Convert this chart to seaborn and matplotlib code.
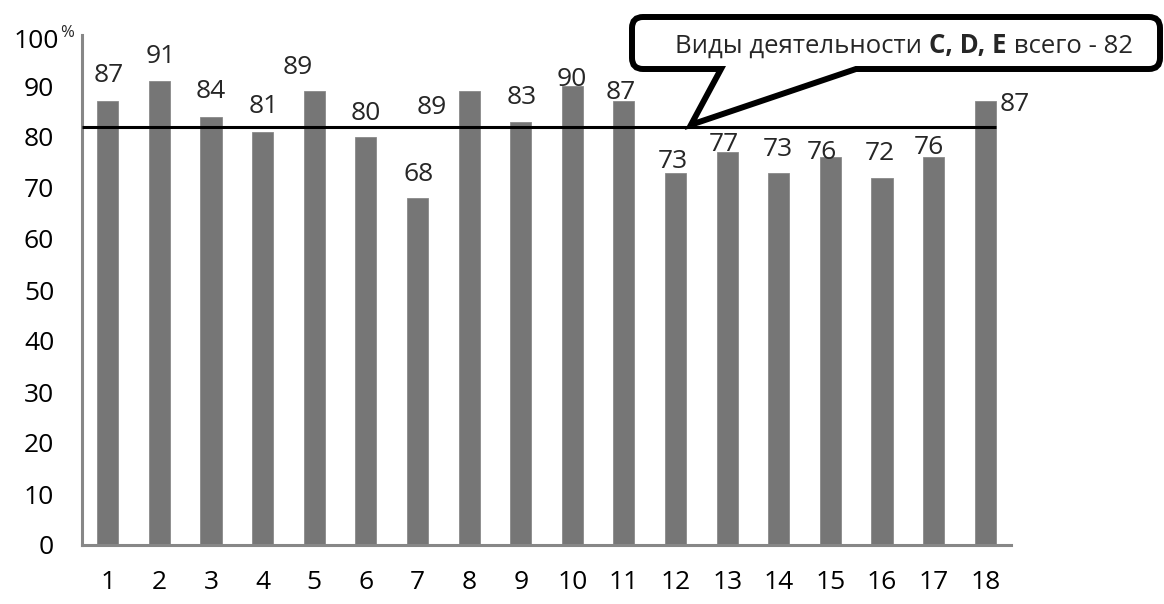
import matplotlib
matplotlib.use('Agg')
import matplotlib.pyplot as plt
import matplotlib.transforms as mtransforms
from matplotlib.path import Path
from matplotlib.patches import PathPatch
import seaborn as sns
import numpy as np

# ---------------- data ----------------
categories = [str(i) for i in range(1, 19)]
values = [87, 91, 84, 81, 89, 80, 68, 89, 83, 90, 87, 73, 77, 73, 76, 72, 76, 87]
total_value = 82
ytick_values = [0, 10, 20, 30, 40, 50, 60, 70, 80, 90, 100]
ytick_labels = ['0', '10', '20', '30', '40', '50', '60', '70', '80', '90', '100']
unit_label = '%'
callout_parts = [('Виды деятельности ', 'normal'), ('C, D, E', 'bold'), (' всего - 82', 'normal')]

# label centre offsets from bar top (pixels, x right, y down) - layout only
label_offsets = [(1, -29), (1, -27), (0, -28), (1, -28), (-17, -27), (0, -26),
                 (1, -27), (-37, 13), (1, -27), (-1, -9), (-3, -12), (-3, -14),
                 (-3, -11), (-1, -26), (-8, -8), (-2, -27), (-5, -13), (30, 0)]

W, H = 1164, 604
FS = 19
sns.set_style('white')
plt.rcParams['font.family'] = ['Open Sans', 'DejaVu Sans']

fig = plt.figure(figsize=(W / 100, H / 100), dpi=100)
ax = fig.add_axes([82 / W, 1 - 545 / H, (1011 - 82) / W, (545 - 35) / H])

bar_color = '#767676'
axis_color = '#878787'
sns.barplot(x=categories, y=values, color=bar_color, saturation=1, width=0.41,
            ax=ax, edgecolor='#8a8a8a', linewidth=0.6)

ax.set_xlim(-0.5, len(categories) - 0.5)
ax.set_ylim(0, 100)
ax.set_xlabel('')
ax.set_ylabel('')

for s in ['top', 'right']:
    ax.spines[s].set_visible(False)
for s in ['left', 'bottom']:
    ax.spines[s].set_color(axis_color)
    ax.spines[s].set_linewidth(2.2)

ax.set_yticks(ytick_values)
ax.set_yticklabels(ytick_labels)
ax.tick_params(axis='y', direction='out', length=7, width=2.2, color=axis_color,
               labelsize=FS, pad=13, labelcolor='black')
ax.tick_params(axis='x', which='major', length=0, labelsize=FS, pad=18, labelcolor='black')
ax.set_xticks(np.arange(-0.5, len(categories), 1), minor=True)
ax.tick_params(axis='x', which='minor', direction='out', length=6, width=2.2, color=axis_color)

# move the "100" label slightly to the right and add the small "%"
lbl100 = ax.get_yticklabels()[-1]
lbl100.set_transform(lbl100.get_transform() +
                     mtransforms.ScaledTranslation(5 / 100, -3 / 100, fig.dpi_scale_trans))
fig.text(67 / W, 1 - 33 / H, unit_label, fontsize=12, ha='center', va='center')

# reference line
ax.hlines(total_value, -0.5, len(categories) - 1 + 0.205, color='black', lw=2.2, zorder=3)

# value labels
for i, (v, (dx, dy)) in enumerate(zip(values, label_offsets)):
    ax.annotate(str(v), xy=(i, v), xytext=(dx, -(dy + 9.5)), textcoords='offset pixels',
                ha='center', va='baseline', fontsize=FS, zorder=4)

# ---------------- callout ----------------
def px(x, y_img):
    return (x, H - y_img)

tip = ax.transData.transform((11.3, total_value + 0.4))
L, R, T, B, r = 632, 1160, 17, 69, 11
verts = [
    px(R - r, B), px(856, B), (tip[0], tip[1]), px(721, B), px(L + r, B),
    px(L, B), px(L, B - r),
    px(L, T + r),
    px(L, T), px(L + r, T),
    px(R - r, T),
    px(R, T), px(R, T + r),
    px(R, B - r),
    px(R, B), px(R - r, B),
    px(R - r, B),
]
codes = [Path.MOVETO, Path.LINETO, Path.LINETO, Path.LINETO, Path.LINETO,
         Path.CURVE3, Path.CURVE3,
         Path.LINETO,
         Path.CURVE3, Path.CURVE3,
         Path.LINETO,
         Path.CURVE3, Path.CURVE3,
         Path.LINETO,
         Path.CURVE3, Path.CURVE3,
         Path.CLOSEPOLY]
patch = PathPatch(Path(verts, codes), facecolor='white', edgecolor='black', lw=4.3,
                  joinstyle='miter', transform=mtransforms.IdentityTransform(),
                  zorder=10, clip_on=False)
fig.add_artist(patch)

renderer = fig.canvas.get_renderer()
texts = []
for s, w in callout_parts:
    t = fig.text(0, 0, s, fontsize=18.5, fontweight=w, ha='left', va='baseline',
                 transform=mtransforms.IdentityTransform(), zorder=11)
    texts.append(t)
widths = [t.get_window_extent(renderer).width for t in texts]
total_w = sum(widths)
x0 = 904 - total_w / 2
for t, w in zip(texts, widths):
    t.set_position((x0, H - 53))
    x0 += w

fig.savefig('out.png', dpi=100)
